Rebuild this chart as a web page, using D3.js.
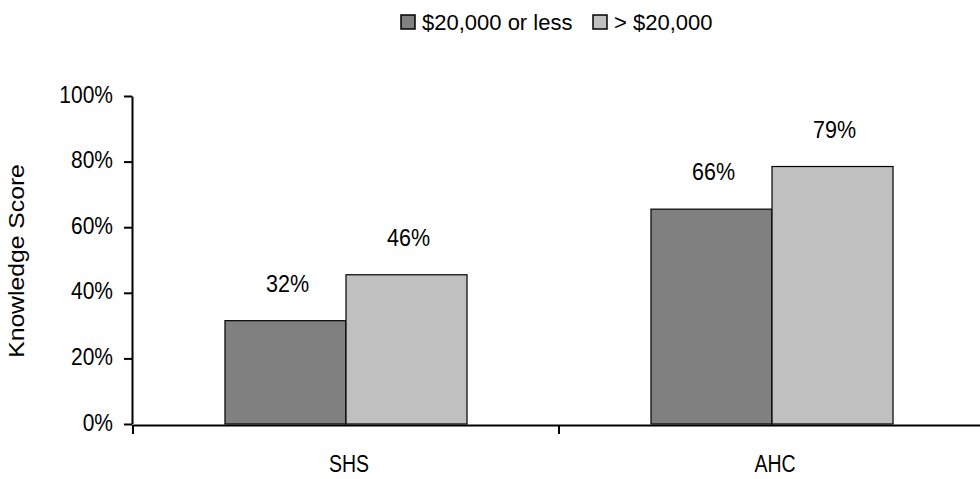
<!DOCTYPE html>
<html>
<head>
<meta charset="utf-8">
<script src="https://cdn.jsdelivr.net/npm/d3@7"></script>
<style>
  html, body { margin: 0; padding: 0; background: #fff; }
  svg { display: block; font-family: "Liberation Sans", Arial, sans-serif; }
</style>
</head>
<body>
<svg id="chart" width="980" height="479"></svg>
<script>
const categories = ["SHS", "AHC"];
const seriesNames = ["$20,000 or less", "> $20,000"];
const lowIncome = [0.315, 0.655];
const highIncome = [0.455, 0.785];
const valueLabels = [["32%", "66%"], ["46%", "79%"]];
const yTicks = [0, 0.2, 0.4, 0.6, 0.8, 1.0];
const colors = ["#808080", "#c0c0c0"];

const svg = d3.select("#chart");
const plot = { left: 133, right: 985, top: 96, bottom: 424 };

const x0 = d3.scaleBand().domain(categories).range([plot.left, plot.right]).padding(0);
const x1 = d3.scaleBand().domain(seriesNames).range([0, x0.bandwidth()]).paddingInner(0).paddingOuter(0.76);
const y = d3.scaleLinear().domain([0, 1]).range([plot.bottom, plot.top]);

const series = [lowIncome, highIncome];

// bars
seriesNames.forEach((s, si) => {
  svg.append("g").selectAll("rect")
    .data(categories)
    .join("rect")
    .attr("x", c => x0(c) + x1(s))
    .attr("y", (c, i) => y(series[si][i]))
    .attr("width", x1.bandwidth())
    .attr("height", (c, i) => y(0) - y(series[si][i]))
    .attr("fill", colors[si])
    .attr("stroke", "#000")
    .attr("stroke-width", 1.2);
});

// value labels
seriesNames.forEach((s, si) => {
  svg.append("g").selectAll("text")
    .data(categories)
    .join("text")
    .attr("transform", (c, i) => `translate(${x0(c) + x1(s) + x1.bandwidth() / 2 + 2},${y(series[si][i]) - 29}) scale(1,1.08)`)
    .attr("text-anchor", "middle")
    .attr("font-size", 21.5)
    .attr("fill", "#000")
    .text((c, i) => valueLabels[si][i]);
});

// y axis
const yAxis = d3.axisLeft(y).tickValues(yTicks).tickFormat(d3.format(".0%")).tickSize(8).tickSizeOuter(0);
const gy = svg.append("g").attr("transform", `translate(${plot.left - 1},0)`).call(yAxis);
gy.select(".domain").attr("stroke", "#000").attr("stroke-width", 2);
gy.selectAll(".tick line").attr("stroke", "#000").attr("stroke-width", 2);
gy.selectAll(".tick text")
  .attr("font-size", 21)
  .attr("fill", "#000")
  .attr("font-family", "Liberation Sans, Arial, sans-serif")
  .attr("x", null).attr("dy", null)
  .attr("transform", "translate(-19,6) scale(1,1.12)");

// x axis
const xAxis = d3.axisBottom(x0).tickSize(0).tickSizeOuter(0).tickFormat(() => "");
const gx = svg.append("g").attr("transform", `translate(0,${plot.bottom + 1})`).call(xAxis);
gx.select(".domain").attr("stroke", "#000").attr("stroke-width", 2);
gx.selectAll(".tick").remove();
// boundary ticks between categories
const boundaries = categories.map(c => x0(c)).concat([plot.right]);
gx.selectAll("line.bt").data(boundaries).join("line")
  .attr("class", "bt")
  .attr("x1", d => d).attr("x2", d => d)
  .attr("y1", 0).attr("y2", 9)
  .attr("stroke", "#000").attr("stroke-width", 2);

// category labels
svg.append("g").selectAll("text")
  .data(categories)
  .join("text")
  .attr("transform", c => `translate(${x0(c) + x0.bandwidth() / 2 + 3},${472}) scale(1,1.18)`)
  .attr("text-anchor", "middle")
  .attr("font-size", 19.5)
  .attr("fill", "#000")
  .text(c => c);

// y title
svg.append("text")
  .attr("transform", `translate(24,${261}) rotate(-90) scale(1.15,1)`)
  .attr("text-anchor", "middle")
  .attr("font-size", 21.5)
  .attr("fill", "#000")
  .text("Knowledge Score");

// legend
const legend = svg.append("g");
const legendItems = [{ x: 401, name: seriesNames[0], color: colors[0] }, { x: 593, name: seriesNames[1], color: colors[1] }];
legendItems.forEach(it => {
  legend.append("rect").attr("x", it.x).attr("y", 15).attr("width", 14).attr("height", 14)
    .attr("fill", it.color).attr("stroke", "#000").attr("stroke-width", 1.5);
  legend.append("text").attr("x", it.x + 21).attr("y", 29.5)
    .attr("font-size", 22).attr("fill", "#000").text(it.name);
});
</script>
</body>
</html>
